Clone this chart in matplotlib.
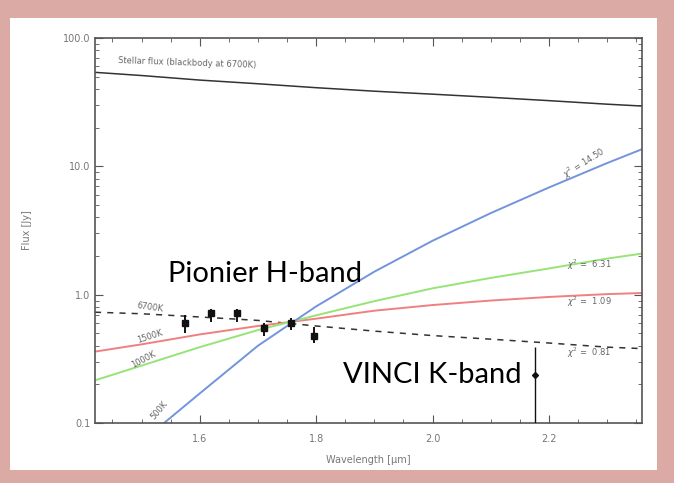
import numpy as np
import matplotlib.pyplot as plt
from matplotlib.patches import Rectangle
from matplotlib.ticker import FixedLocator, MultipleLocator, NullFormatter

# Wavelength grid (micron) for the model curves
wl = [1.42, 1.5, 1.6, 1.7, 1.8, 1.9, 2.0, 2.1, 2.2, 2.3, 2.36]

# Model fluxes (Jy)
flux_star = [54, 51, 47, 44, 41, 38.5, 36.5, 34.5, 32.5, 30.5, 29.5]
flux_6700 = [0.73, 0.71, 0.67, 0.63, 0.57, 0.52, 0.48, 0.45, 0.42, 0.39, 0.38]
flux_1500 = [0.36, 0.41, 0.49, 0.57, 0.65, 0.75, 0.83, 0.90, 0.96, 1.01, 1.03]
flux_1000 = [0.215, 0.28, 0.39, 0.53, 0.69, 0.89, 1.12, 1.35, 1.60, 1.91, 2.09]
wl_500 = [1.52, 1.6, 1.7, 1.8, 1.9, 2.0, 2.1, 2.2, 2.3, 2.36]
flux_500 = [0.085, 0.17, 0.40, 0.81, 1.51, 2.63, 4.32, 6.84, 10.6, 13.6]

# PIONIER H-band measurements
pio_wl = [1.574, 1.620, 1.664, 1.711, 1.757, 1.796]
pio_flux = [0.60, 0.72, 0.72, 0.55, 0.60, 0.48]
pio_lo = [0.50, 0.61, 0.61, 0.48, 0.53, 0.42]
pio_hi = [0.69, 0.78, 0.78, 0.60, 0.66, 0.56]

# VINCI K-band measurement
vin_wl = [2.176]
vin_flux = [0.235]
vin_lo = [0.05]
vin_hi = [0.39]

fig = plt.figure(figsize=(6.74, 4.83), dpi=100, facecolor='#dcaaa5')
fig.patches.append(Rectangle((10 / 674, 1 - 470 / 483), 647 / 674, 452 / 483,
                             transform=fig.transFigure, facecolor='white',
                             edgecolor='none', zorder=0))

ax = fig.add_axes([95 / 674, 1 - 423 / 483, 547 / 674, 385 / 483])
ax.set_zorder(2)
ax.set_facecolor('white')

ax.plot(wl, flux_star, color='#333333', lw=1.1)
ax.plot(wl, flux_6700, color='#333333', lw=1.1, ls=(0, (4, 4)))
ax.plot(wl, flux_1500, color='#f08080', lw=1.4)
ax.plot(wl, flux_1000, color='#96e478', lw=1.4)
ax.plot(wl_500, flux_500, color='#7394dc', lw=1.4)

pio_err = [np.array(pio_flux) - np.array(pio_lo), np.array(pio_hi) - np.array(pio_flux)]
ax.errorbar(pio_wl, pio_flux, yerr=pio_err, fmt='s', color='#111111', ms=4.5,
            elinewidth=1.4, capsize=0, zorder=5)
vin_err = [np.array(vin_flux) - np.array(vin_lo), np.array(vin_hi) - np.array(vin_flux)]
ax.errorbar(vin_wl, vin_flux, yerr=vin_err, fmt='D', color='#111111', ms=3,
            elinewidth=1.0, capsize=0, zorder=5)

ax.set_yscale('log')
ax.set_xlim(1.42, 2.36)
ax.set_ylim(0.1, 100)
ax.yaxis.set_major_locator(FixedLocator([0.1, 1, 10, 100]))
ax.set_yticklabels(['0.1', '1.0', '10.0', '100.0'])
ax.yaxis.set_minor_formatter(NullFormatter())
ax.xaxis.set_major_locator(FixedLocator([1.6, 1.8, 2.0, 2.2]))
ax.set_xticklabels(['1.6', '1.8', '2.0', '2.2'])
ax.xaxis.set_minor_locator(MultipleLocator(0.05))
ax.tick_params(which='both', direction='in', top=True, right=True,
               colors='#555555', labelsize=7, labelcolor='#777777')
ax.tick_params(axis='x', pad=8)
ax.tick_params(which='major', length=6)
ax.tick_params(which='minor', length=3)
for s in ax.spines.values():
    s.set_color('#555555')
    s.set_linewidth(1.2)

ax.set_xlabel('Wavelength [µm]', fontsize=7, color='#777777', labelpad=8)
ax.set_ylabel('Flux [Jy]', fontsize=7, color='#777777', labelpad=22)

grey = '#666666'
ax.text(1.46, 64, 'Stellar flux (blackbody at 6700K)', fontsize=6, color=grey,
        rotation=-2, va='center')
ax.text(1.49, 0.80, '6700K', fontsize=6, color=grey, rotation=-8, va='center')
ax.text(1.49, 0.47, '1500K', fontsize=6, color=grey, rotation=18, va='center')
ax.text(1.48, 0.31, '1000K', fontsize=6, color=grey, rotation=28, va='center')
ax.text(1.53, 0.125, '500K', fontsize=6, color=grey, rotation=50, va='center', ha='center')
ax.text(2.26, 10.5, r'$\chi^2$ = 14.50', fontsize=6, color=grey, rotation=32,
        ha='center', va='center')
ax.text(2.27, 1.7, r'$\chi^2$ =  6.31', fontsize=6, color=grey, ha='center', va='center')
ax.text(2.27, 0.88, r'$\chi^2$ =  1.09', fontsize=6, color=grey, ha='center', va='center')
ax.text(2.27, 0.35, r'$\chi^2$ =  0.81', fontsize=6, color=grey, ha='center', va='center')

ax.text(1.546, 1.45, 'Pionier H-band', fontsize=21, family=['Lato', 'DejaVu Sans'],
        color='black', va='center')
ax.text(1.847, 0.235, 'VINCI K-band', fontsize=21, family=['Lato', 'DejaVu Sans'],
        color='black', va='center')

fig.savefig('out.png', dpi=100, facecolor=fig.get_facecolor())
